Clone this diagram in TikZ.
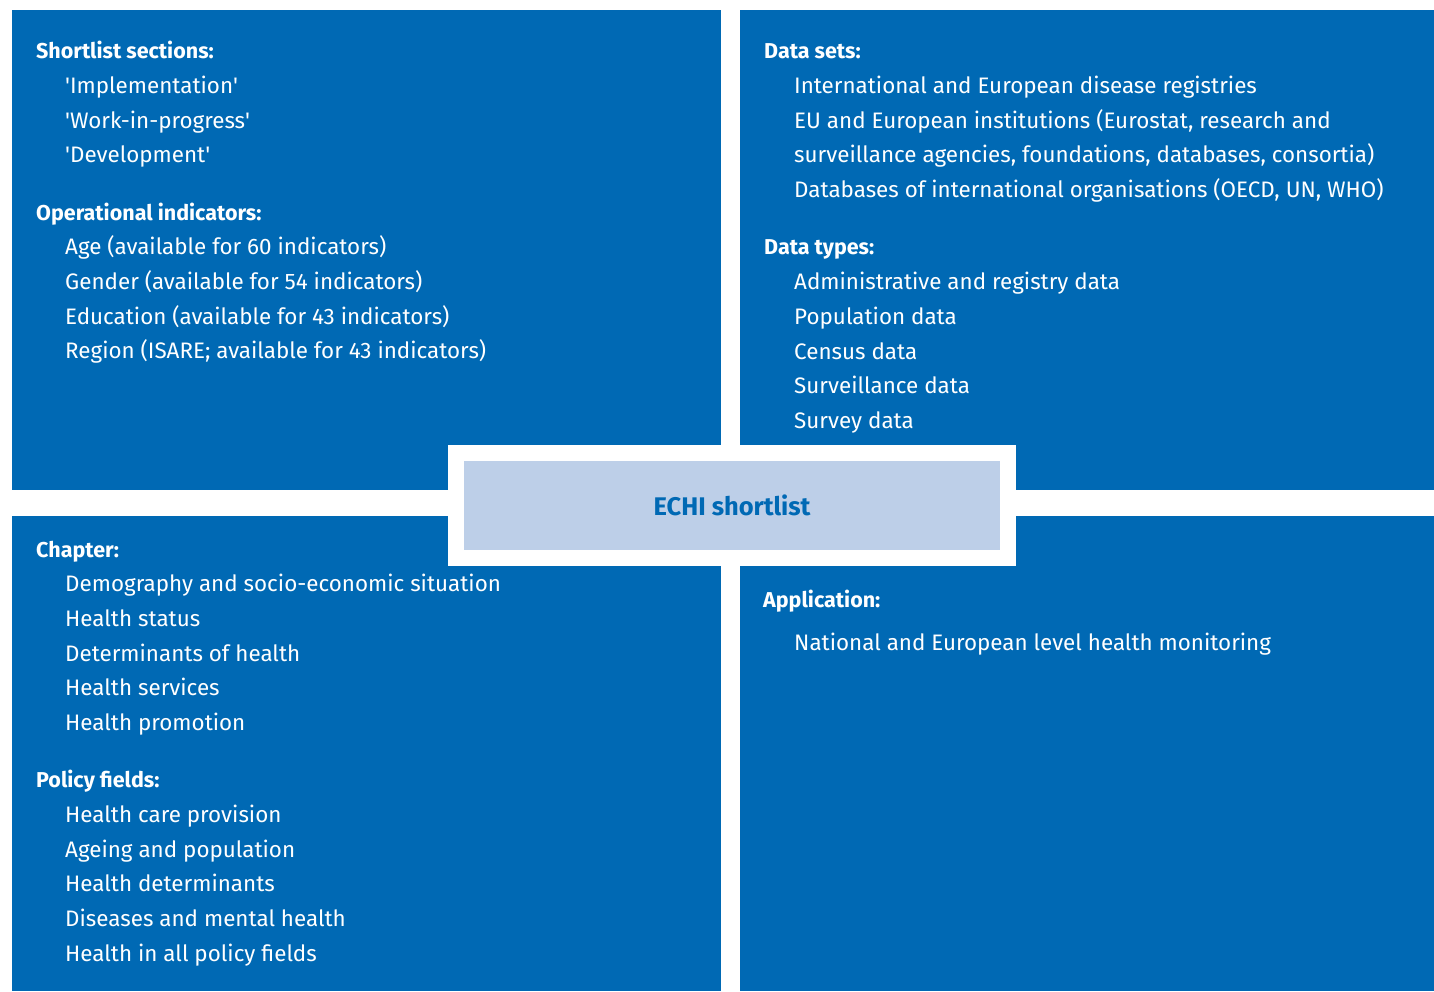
\documentclass[tikz,border=0pt]{standalone}
\usepackage{fontspec}
\setmainfont{Fira Sans}
\definecolor{echiblue}{HTML}{0069B4}
\definecolor{echilight}{HTML}{BDCFE8}
\tikzset{
  panel/.style={fill=echiblue},
  head/.style={anchor=base west, inner sep=0pt, text=white, font=\bfseries\fontsize{21.5}{25}\selectfont},
  item/.style={anchor=base west, inner sep=0pt, text=white, font=\fontsize{22.4}{26}\selectfont},
}
\newcommand{\sq}[1]{\textquotesingle#1\textquotesingle}
\begin{document}
\begin{tikzpicture}[x=1pt,y=-1pt]
      \useasboundingbox (0,0) rectangle (1434,991);

      % four panels
      \fill[panel] (12,10) rectangle (721,490);
      \fill[panel] (740,10) rectangle (1434,490);
      \fill[panel] (12,516) rectangle (721,991);
      \fill[panel] (740,516) rectangle (1434,991);

      % top left
      \node[head] (secs) at (36,58.5) {Shortlist sections:};
      \node[item] (impl) at (65,93.5) {\sq{Implementation}};
      \node[item] (wip) at (65,128.5) {\sq{Work-in-progress}};
      \node[item] (dev) at (65,162.5) {\sq{Development}};

      \node[head] (oper) at (36,220.5) {Operational indicators:};
      \node[item] (age) at (65,254.5) {Age (available for 60 indicators)};
      \node[item] (gender) at (65,289.5) {Gender (available for 54 indicators)};
      \node[item] (edu) at (65,324.5) {Education (available for 43 indicators)};
      \node[item] (region) at (65,358.5) {Region (ISARE; available for 43 indicators)};

      % top right
      \node[head] (sets) at (764,58.5) {Data sets:};
      \node[item] (reg) at (794,93.5) {International and European disease registries};
      \node[item] (inst) at (794,128.5) {EU and European institutions (Eurostat, research and};
      \node[item] (inst2) at (794,162.5) {surveillance agencies, foundations, databases, consortia)};
      \node[item] (orgs) at (794,197.5) {Databases of international organisations (OECD, UN, WHO)};

      \node[head] (types) at (764,254.5) {Data types:};
      \node[item] (admin) at (794,289.5) {Administrative and registry data};
      \node[item] (pop) at (794,324.5) {Population data};
      \node[item] (census) at (794,359.5) {Census data};
      \node[item] (surv) at (794,393.5) {Surveillance data};
      \node[item] (survey) at (794,428.5) {Survey data};

      % bottom left
      \node[head] (chap) at (36,557.5) {Chapter:};
      \node[item] (demo) at (65,591.5) {Demography and socio-economic situation};
      \node[item] (status) at (65,626.5) {Health status};
      \node[item] (determ) at (65,661.5) {Determinants of health};
      \node[item] (serv) at (65,695.5) {Health services};
      \node[item] (promo) at (65,730.5) {Health promotion};

      \node[head] (policy) at (36,787.5) {Policy fields:};
      \node[item] (care) at (65,822.5) {Health care provision};
      \node[item] (ageing) at (65,857.5) {Ageing and population};
      \node[item] (hdet) at (65,891.5) {Health determinants};
      \node[item] (mental) at (65,926.5) {Diseases and mental health};
      \node[item] (hiap) at (65,961.5) {Health in all policy fields};

      % bottom right
      \node[head] (appl) at (763,607.5) {Application:};
      \node[item] (monit) at (794,650.5) {National and European level health monitoring};

      % centre box
      \node[fill=echilight, draw=white, line width=16pt, minimum width=552pt, minimum height=105pt,
            text=echiblue, font=\bfseries\fontsize{25.5}{30}\selectfont] (echi) at (732,505) {ECHI shortlist};
    \end{tikzpicture}
\end{document}
